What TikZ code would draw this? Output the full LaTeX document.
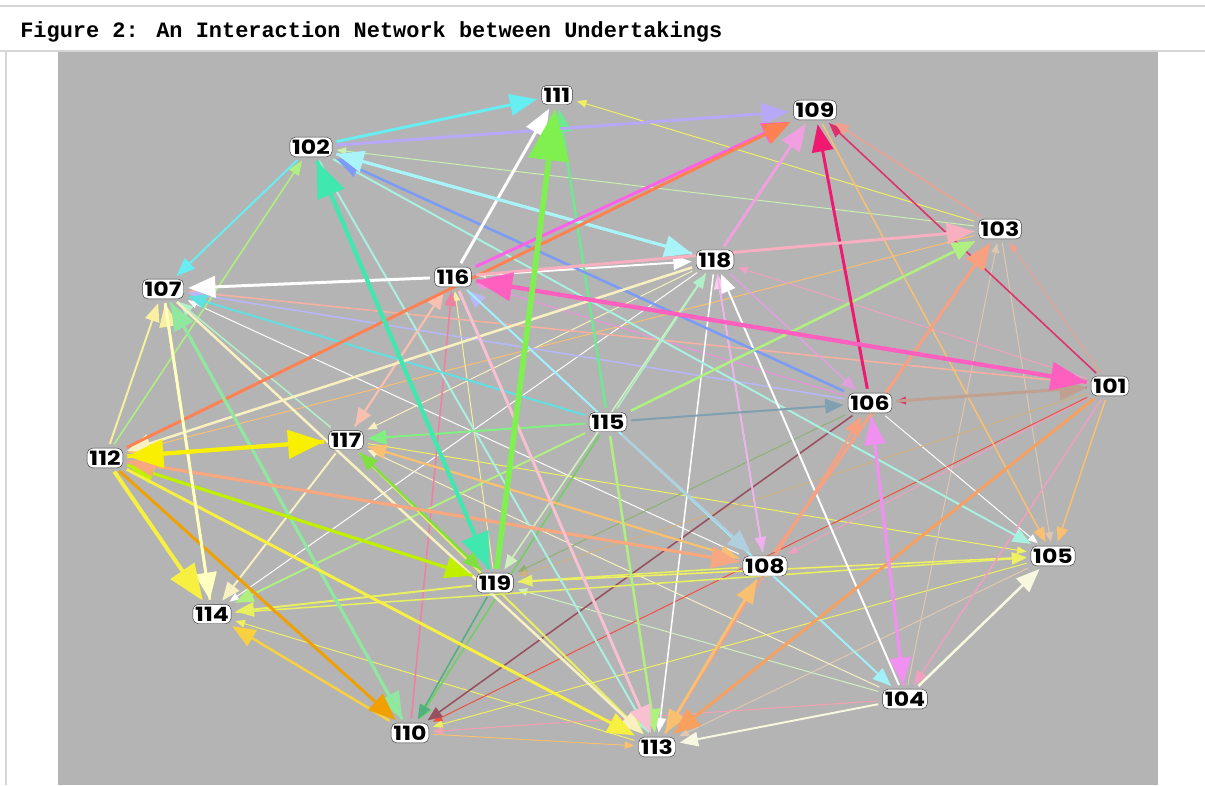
\documentclass[tikz,border=0pt]{standalone}
\usepackage{fontspec}
\usepackage{tikz}
\usetikzlibrary{arrows.meta}
\newfontfamily\capfont{Liberation Mono}
\newfontfamily\tagfont[FakeStretch=1.2]{Poppins}
\tikzset{>={Triangle[length=0.5pt 9,width=0.5pt 7]}}

\pgfdeclarelayer{backdrop}
\pgfdeclarelayer{links}
\pgfsetlayers{backdrop,links,main}

\definecolor{canvas}{RGB}{180,180,180}
\definecolor{rule}{RGB}{214,214,214}
\definecolor{cyanA}{RGB}{102,238,242}
\definecolor{cyanB}{RGB}{96,224,224}
\definecolor{cyanC}{RGB}{160,240,248}
\definecolor{lcyan}{RGB}{168,244,248}
\definecolor{lcyanB}{RGB}{168,240,224}
\definecolor{lavA}{RGB}{184,168,248}
\definecolor{lavB}{RGB}{184,184,248}
\definecolor{greenA}{RGB}{128,240,80}
\definecolor{greenB}{RGB}{128,224,64}
\definecolor{greenC}{RGB}{128,240,128}
\definecolor{greenD}{RGB}{112,208,96}
\definecolor{mintA}{RGB}{112,232,144}
\definecolor{mintB}{RGB}{144,232,160}
\definecolor{mintC}{RGB}{176,240,200}
\definecolor{mintD}{RGB}{208,240,192}
\definecolor{aqua}{RGB}{64,232,176}
\definecolor{teal}{RGB}{80,176,128}
\definecolor{palegreen}{RGB}{200,240,176}
\definecolor{lgreen}{RGB}{176,240,128}
\definecolor{ygreen}{RGB}{192,240,0}
\definecolor{olive}{RGB}{144,176,112}
\definecolor{blueA}{RGB}{123,155,245}
\definecolor{steel}{RGB}{128,160,176}
\definecolor{steelB}{RGB}{176,208,224}
\definecolor{yelA}{RGB}{240,240,96}
\definecolor{yelB}{RGB}{232,240,96}
\definecolor{yelC}{RGB}{248,240,0}
\definecolor{yelD}{RGB}{248,240,64}
\definecolor{lyel}{RGB}{248,240,160}
\definecolor{lyelB}{RGB}{255,255,192}
\definecolor{cream}{RGB}{248,240,192}
\definecolor{creamB}{RGB}{248,248,224}
\definecolor{gold}{RGB}{248,208,64}
\definecolor{amber}{RGB}{240,160,0}
\definecolor{lorg}{RGB}{248,192,112}
\definecolor{orgA}{RGB}{255,128,80}
\definecolor{orgB}{RGB}{248,160,96}
\definecolor{salmA}{RGB}{240,160,144}
\definecolor{salmB}{RGB}{248,176,160}
\definecolor{salmC}{RGB}{248,168,128}
\definecolor{salmD}{RGB}{248,160,128}
\definecolor{peach}{RGB}{248,192,176}
\definecolor{tan}{RGB}{208,176,128}
\definecolor{taupe}{RGB}{192,160,144}
\definecolor{beige}{RGB}{224,200,176}
\definecolor{redorg}{RGB}{240,80,64}
\definecolor{maroon}{RGB}{152,80,96}
\definecolor{crim}{RGB}{224,48,106}
\definecolor{dpink}{RGB}{240,24,112}
\definecolor{hotpink}{RGB}{255,96,192}
\definecolor{magA}{RGB}{255,96,232}
\definecolor{pinkA}{RGB}{240,160,224}
\definecolor{pinkB}{RGB}{248,160,176}
\definecolor{pinkC}{RGB}{240,128,160}
\definecolor{pinkD}{RGB}{240,144,224}
\definecolor{pinkE}{RGB}{248,176,192}
\definecolor{pinkF}{RGB}{240,160,192}
\definecolor{pinkG}{RGB}{248,192,208}
\definecolor{pinkH}{RGB}{248,208,232}
\definecolor{pinkI}{RGB}{240,176,240}
\definecolor{violet}{RGB}{240,144,240}
\definecolor{violetB}{RGB}{224,160,224}

\begin{document}
\begin{tikzpicture}[x=0.025cm, y=-0.025cm]
      \tikzstyle{firm} = [fill=white, draw=black!80, line width=0.3pt, rounded corners=4pt, inner xsep=1.6pt, inner ysep=1.8pt, font=\tagfont\bfseries\fontsize{14}{14}\selectfont]
      \tikzstyle{t1} = [->, line width=0.7pt, shorten >=3pt, shorten <=3pt]
      \tikzstyle{t2} = [->, line width=1.1pt, shorten >=3pt, shorten <=3pt]
      \tikzstyle{t3} = [->, line width=1.4pt, shorten >=3pt, shorten <=3pt]
      \tikzstyle{t4} = [->, line width=1.8pt, shorten >=3pt, shorten <=3pt]
      \tikzstyle{t5} = [->, line width=2.1pt, shorten >=3pt, shorten <=3pt]
      \tikzstyle{t6} = [->, line width=2.8pt, shorten >=3pt, shorten <=3pt]
      \tikzstyle{t7} = [->, line width=4pt, shorten >=3pt, shorten <=3pt]

      \useasboundingbox (0,0) rectangle (1205,785);

      % page frame and caption
      \begin{pgfonlayer}{backdrop}
        \fill[white] (0,0) rectangle (1205,785);
        \fill[canvas] (58,52) rectangle (1158,785);
        \draw[rule, line width=0.8pt] (0,6) -- (1205,6);
        \draw[rule, line width=0.8pt] (0,51) -- (1205,51);
        \draw[rule, line width=0.8pt] (6,51) -- (6,785);
      \end{pgfonlayer}
      \node[anchor=base west, inner sep=0pt, font=\capfont\bfseries\fontsize{15.6}{18}\selectfont] (cap) at (20,37) {Figure 2: An Interaction Network between Undertakings};

      % undertakings
      \node[firm] (n101) at (1110,386) {101};
      \node[firm] (n102) at (311,147) {102};
      \node[firm] (n103) at (1000,229) {103};
      \node[firm] (n104) at (905,699) {104};
      \node[firm] (n105) at (1053,556) {105};
      \node[firm] (n106) at (870,403) {106};
      \node[firm] (n107) at (163,289) {107};
      \node[firm] (n108) at (765,566) {108};
      \node[firm] (n109) at (815,110) {109};
      \node[firm] (n110) at (410,733) {110};
      \node[firm] (n111) at (557,95) {111};
      \node[firm] (n112) at (105,458) {112};
      \node[firm] (n113) at (657,747) {113};
      \node[firm] (n114) at (212,614) {114};
      \node[firm] (n115) at (608,422) {115};
      \node[firm] (n116) at (453,277) {116};
      \node[firm] (n117) at (346,440) {117};
      \node[firm] (n118) at (715,260) {118};
      \node[firm] (n119) at (495,583) {119};

      \begin{pgfonlayer}{links}
      % thin ones first
      \draw[t1, yelA] (n103) to (n111);
      \draw[t1, palegreen] (n103) to (n102);
      \draw[t1, cream] (n103) to (n116);
      \draw[t1, lorg] (n103) to (n112);
      \draw[t1, white] (n108) to (n107);
      \draw[t1, white] (n118) to (n114);
      \draw[t1, yelA] (n113) to (n114);
      \draw[t1, lorg] (n110) to (n113);
      \draw[t1, yelA] (n105) to (n110);
      \draw[t1, beige] (n105) to (n113);
      \draw[t1, lyel] (n119) to (n116);
      \draw[t1, yelA] (n117) to (n105);
      \draw[t1, cream] (n118) to (n117);
      \draw[t1, cream] (n104) to (n117);
      \draw[t1, crim] (n101) to (n106);
      \draw[t1, beige] (n104) to (n103);
      \draw[t1, beige] (n103) to (n105);
      \draw[t1, pinkF] (n101) to (n108);
      \draw[t1, white] (n106) to (n105);
      \draw[t1, olive] (n106) to (n119);
      \draw[t1, tan] (n101) to (n119);
      \draw[t1, mintD] (n104) to (n119);
      \draw[t1, redorg] (n101) to (n110);
      \draw[t1, pinkB] (n104) to (n110);
      \draw[t1, pinkD] (n106) to (n116);
      \draw[t1, pinkF] (n101) to (n118);
      \draw[t1, salmA] (n101) to (n103);
      \draw[t2, crim] (n101) to (n109);
      \draw[t2, salmA] (n103) to (n109);
      \draw[t2, salmB] (n101) to (n107);
      \draw[t2, lavB] (n106) to (n107);
      \draw[t2, lgreen] (n112) to (n102);
      \draw[t2, mintC] (n117) to (n107);
      \draw[t2, greenD] (n115) to (n110);
      \draw[t2, teal] (n119) to (n110);
      \draw[t2, maroon] (n106) to (n110);
      \draw[t2, pinkC] (n110) to (n116);
      \draw[t2, white] (n118) to (n113);
      \draw[t2, mintD] (n118) to (n119);
      \draw[t2, yelB] (n108) to (n119);
      \draw[t2, yelB] (n114) to (n105);
      \draw[t2, yelA] (n119) to (n105);
      \draw[t2, mintC] (n115) to (n118);
      \draw[t2, pinkH] (n108) to (n118);
      \draw[t2, violetB] (n118) to (n106);
      \draw[t2, pinkI] (n118) to (n108);
      \draw[t2, lorg] (n101) to (n105);
      \draw[t2, pinkF] (n101) to (n104);
      \draw[t2, lorg] (n109) to (n105);
      % medium
      \draw[t3, lcyanB] (n102) to (n113);
      \draw[t3, lcyanB] (n102) to (n105);
      \draw[t3, cyanA] (n102) to (n107);
      \draw[t3, cyanB] (n115) to (n107);
      \draw[t3, lyel] (n112) to (n107);
      \draw[t3, cream] (n117) to (n114);
      \draw[t3, lgreen] (n115) to (n114);
      \draw[t3, yelB] (n119) to (n114);
      \draw[t3, yelB] (n117) to (n113);
      \draw[t3, creamB] (n104) to (n113);
      \draw[t3, greenB] (n117) to (n119);
      \draw[t3, greenB] (n119) to (n117);
      \draw[t3, greenC] (n115) to (n117);
      \draw[t3, peach] (n116) to (n117);
      \draw[t3, peach] (n117) to (n116);
      \draw[t3, lorg] (n108) to (n117);
      \draw[t3, lorg] (n117) to (n108);
      \draw[t3, lavB] (n115) to (n116);
      \draw[t3, white] (n116) to (n118);
      \draw[t3, white] (n104) to (n118);
      \draw[t3, steel] (n115) to (n106);
      \draw[t3, salmD] (n113) to (n106);
      \draw[t3, cyanC] (n116) to (n104);
      \draw[t4, mintA] (n115) to (n111);
      \draw[t4, blueA] (n106) to (n102);
      \draw[t4, lyel] (n114) to (n107);
      \draw[t4, cream] (n107) to (n113);
      \draw[t4, cream] (n118) to (n112);
      \draw[t4, gold] (n110) to (n114);
      \draw[t4, lgreen] (n115) to (n113);
      \draw[t4, lorg] (n108) to (n113);
      \draw[t4, lorg] (n113) to (n108);
      \draw[t4, lgreen] (n115) to (n103);
      \draw[t4, steelB] (n115) to (n108);
      \draw[t4, creamB] (n104) to (n105);
      % heavy
      \draw[t5, cyanA] (n102) to (n111);
      \draw[t5, lavA] (n102) to (n109);
      \draw[t5, white] (n116) to (n111);
      \draw[t5, lcyan] (n102) to (n118);
      \draw[t5, lcyan] (n118) to (n102);
      \draw[t5, magA] (n116) to (n109);
      \draw[t5, orgA] (n112) to (n109);
      \draw[t5, pinkA] (n118) to (n109);
      \draw[t5, dpink] (n106) to (n109);
      \draw[t5, white] (n116) to (n107);
      \draw[t5, mintB] (n110) to (n107);
      \draw[t5, mintB] (n107) to (n110);
      \draw[t5, ygreen] (n119) to (n112);
      \draw[t5, ygreen] (n112) to (n119);
      \draw[t5, salmC] (n108) to (n112);
      \draw[t5, salmC] (n112) to (n108);
      \draw[t5, amber] (n112) to (n110);
      \draw[t5, yelD] (n112) to (n113);
      \draw[t5, lyelB] (n107) to (n114);
      \draw[t5, pinkG] (n116) to (n113);
      \draw[t5, orgB] (n101) to (n113);
      \draw[t5, pinkE] (n116) to (n103);
      \draw[t5, salmD] (n108) to (n103);
      \draw[t5, taupe] (n106) to (n101);
      \draw[t5, violet] (n104) to (n106);
      \draw[t5, violet] (n106) to (n104);
      \draw[t6, aqua] (n119) to (n102);
      \draw[t6, aqua] (n102) to (n119);
      \draw[t6, yelC] (n117) to (n112);
      \draw[t6, yelC] (n112) to (n117);
      \draw[t6, yelD] (n112) to (n114);
      \draw[t6, hotpink] (n101) to (n116);
      \draw[t6, hotpink] (n116) to (n101);
      \draw[t7, greenA] (n119) to (n111);
      \end{pgfonlayer}
\end{tikzpicture}
\end{document}
